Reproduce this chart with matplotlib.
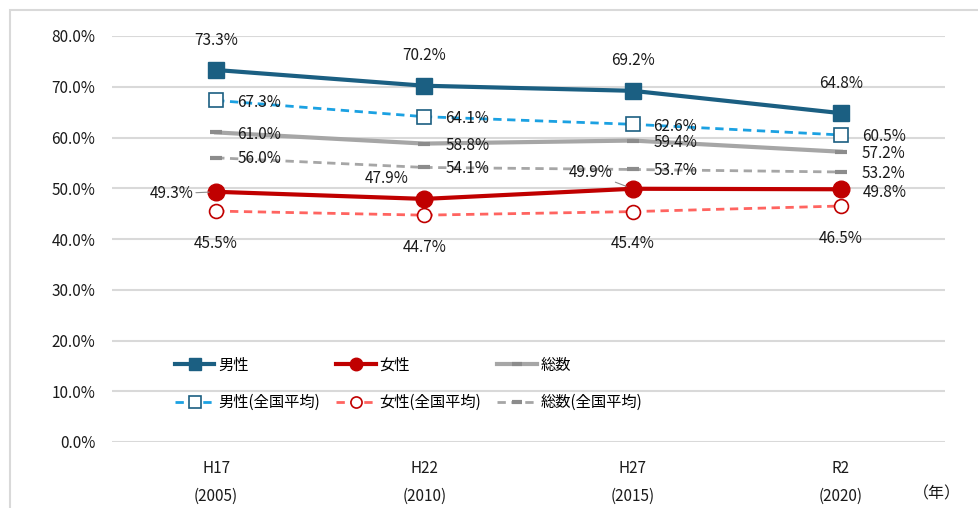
import matplotlib.pyplot as plt
from matplotlib.patches import Rectangle
from matplotlib.lines import Line2D

plt.rcParams['font.family'] = ['Noto Sans CJK JP', 'DejaVu Sans']

# Data
years = ["H17\n(2005)", "H22\n(2010)", "H27\n(2015)", "R2\n(2020)"]
male = [73.3, 70.2, 69.2, 64.8]
female = [49.3, 47.9, 49.9, 49.8]
total = [61.0, 58.8, 59.4, 57.2]
male_nat = [67.3, 64.1, 62.6, 60.5]
female_nat = [45.5, 44.7, 45.4, 46.5]
total_nat = [56.0, 54.1, 53.7, 53.2]

c_male = '#1b5f82'
c_female = '#c00000'
c_total = '#a6a6a6'
c_male_nat = '#1ba1e2'
c_female_nat = '#ff6460'
txt = '#1a1a1a'

fig = plt.figure(figsize=(9.79, 5.08), dpi=100)
ax = fig.add_axes([112/979, 66/508, 833/979, 406/508])

x = list(range(len(years)))

# national averages (dashed)
ax.plot(x, male_nat, color=c_male_nat, lw=2, ls=(0, (3, 2)), marker='s', ms=10,
        mfc='white', mec=c_male, mew=1.2, zorder=3)
ax.plot(x, female_nat, color=c_female_nat, lw=2, ls=(0, (3, 2)), marker='o', ms=10,
        mfc='white', mec=c_female, mew=1.2, zorder=3)
ax.plot(x, total_nat, color=c_total, lw=2, ls=(0, (3, 2)), marker='_', ms=8,
        mec='#8c8c8c', mew=3, zorder=3)
# prefecture values (solid)
ax.plot(x, total, color=c_total, lw=3, marker='_', ms=8, mec='#8c8c8c', mew=3, zorder=4)
ax.plot(x, female, color=c_female, lw=3, marker='o', ms=12, mfc=c_female, mec=c_female, zorder=5)
ax.plot(x, male, color=c_male, lw=3, marker='s', ms=12, mfc=c_male, mec=c_male, zorder=5)

ax.set_xlim(-0.5, 3.5)
ax.set_ylim(0, 80)
ax.set_yticks(range(0, 81, 10))
ax.set_yticklabels([f"{v:.1f}%" for v in range(0, 81, 10)], fontsize=11, color=txt)
ax.set_xticks(x)
ax.set_xticklabels(years, fontsize=11, color=txt, linespacing=1.8)
ax.tick_params(axis='x', length=0, pad=13)
ax.tick_params(axis='y', length=0, pad=12)
ax.grid(axis='y', color='#d9d9d9', lw=1.5)
ax.set_axisbelow(True)
for s in ax.spines.values():
    s.set_visible(False)

fig.text(937/979, 1 - 494/508, "（年）", fontsize=11.5, color=txt, ha='center', va='center')

def lab(vals, dx, dy, ha='center'):
    for i, v in enumerate(vals):
        ax.annotate(f"{v:.1f}%", (i, v), xytext=(dx, dy), textcoords='offset pixels',
                    ha=ha, va='center', fontsize=11, color=txt, zorder=6)

lab(male, 0, 30)
lab(male_nat, 21, -2, 'left')
lab(total, 21, -2, 'left')
lab(total_nat, 21, -1, 'left')
lab(female_nat, 0, -32)

# female labels placed individually
fem_off = [(-23, -2, 'right'), (-38, 20, 'center'), (-42, 16, 'center'), (22, -3, 'left')]
for i, (v, (dx, dy, ha)) in enumerate(zip(female, fem_off)):
    lead = None
    if i in (0, 2):
        lead = dict(arrowstyle='-', color='#8c8c8c', lw=0.8, shrinkA=0, shrinkB=5)
    ax.annotate(f"{v:.1f}%", (i, v), xytext=(dx, dy), textcoords='offset pixels',
                ha=ha, va='center', fontsize=11, color=txt, zorder=6, arrowprops=lead)

# legend
handles = [
    Line2D([], [], color=c_male, lw=3, marker='s', ms=9),
    Line2D([], [], color=c_male_nat, lw=2, ls=(0, (3, 2)), marker='s', ms=8, mfc='white', mec=c_male, mew=1.2),
    Line2D([], [], color=c_female, lw=3, marker='o', ms=9),
    Line2D([], [], color=c_female_nat, lw=2, ls=(0, (3, 2)), marker='o', ms=8, mfc='white', mec=c_female, mew=1.2),
    Line2D([], [], color=c_total, lw=3, marker='_', ms=7, mec='#8c8c8c', mew=3),
    Line2D([], [], color=c_total, lw=2, ls=(0, (3, 2)), marker='_', ms=7, mec='#8c8c8c', mew=3),
]
names = ["男性", "男性(全国平均)", "女性", "女性(全国平均)", "総数", "総数(全国平均)"]
fig.legend(handles, names, ncol=3, loc='upper left', bbox_to_anchor=(167/979, 1 - 349/508),
           frameon=False, fontsize=11, handlelength=2.6, handletextpad=0.25,
           columnspacing=1.05, labelspacing=1.35, borderpad=0)

# outer light border
fig.add_artist(Rectangle((10/979, -0.1), 1.2, 1 - 10/508 + 0.1, transform=fig.transFigure,
                         fill=False, ec='#d9d9d9', lw=1.5))

fig.savefig("out.png", dpi=100)
